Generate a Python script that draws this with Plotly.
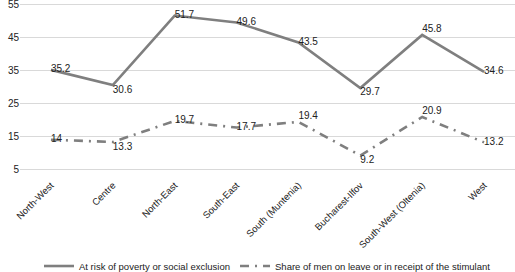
import plotly.graph_objects as go

regions = ["North-West", "Centre", "North-East", "South-East", "South (Muntenia)",
           "Bucharest-Ilfov", "South-West (Oltenia)", "West"]
risk = [35.2, 30.6, 51.7, 49.6, 43.5, 29.7, 45.8, 34.6]
men_share = [14, 13.3, 19.7, 17.7, 19.4, 9.2, 20.9, 13.2]
y_ticks = [5, 15, 25, 35, 45, 55]

font = dict(family="Liberation Sans, Arial, sans-serif", size=10, color="#222")

fig = go.Figure()
fig.add_trace(go.Scatter(
    x=regions, y=risk, mode="lines+text", name="At risk of poverty or social exclusion",
    line=dict(color="#7f7f7f", width=2.6),
    text=[str(v) for v in risk],
    textposition=["middle right", "bottom right", "middle right", "middle right",
                  "middle right", "bottom right", "top right", "middle right"],
    textfont=font, cliponaxis=False,
))
fig.add_trace(go.Scatter(
    x=regions, y=men_share, mode="lines+text",
    name="Share of men on leave or in receipt of the stimulant",
    line=dict(color="#7f7f7f", width=2.6, dash="9px,6px,2px,6px"),
    text=[str(v) for v in men_share],
    textposition=["middle right", "bottom right", "middle right", "middle right",
                  "top right", "bottom right", "top right", "middle right"],
    textfont=font, cliponaxis=False,
))

fig.update_layout(
    width=515, height=272,
    margin=dict(l=20, r=0, t=3, b=101, autoexpand=False),
    plot_bgcolor="white", paper_bgcolor="white",
    font=font,
    showlegend=True,
    legend=dict(orientation="h", x=0.5, xanchor="center", y=0.022, yref="container",
                yanchor="middle", font=dict(size=9.5), itemwidth=30, tracegroupgap=0,
                bgcolor="rgba(0,0,0,0)"),
    xaxis=dict(tickangle=-45, showgrid=False, showline=False, ticks="",
               range=[-0.5, 7.5], tickfont=dict(size=9.5), automargin=False,
               ticklabelstandoff=6),
    yaxis=dict(range=[4.5, 55.5], tickvals=y_ticks, showgrid=True, gridcolor="#d9d9d9",
               zeroline=False, ticks="", tickfont=dict(size=10), automargin=False,
               ticklabeloverflow="allow"),
)
fig.write_html("out.html", config={"displayModeBar": False},
               post_script="document.body.style.margin='0';document.body.style.overflow='hidden';")
